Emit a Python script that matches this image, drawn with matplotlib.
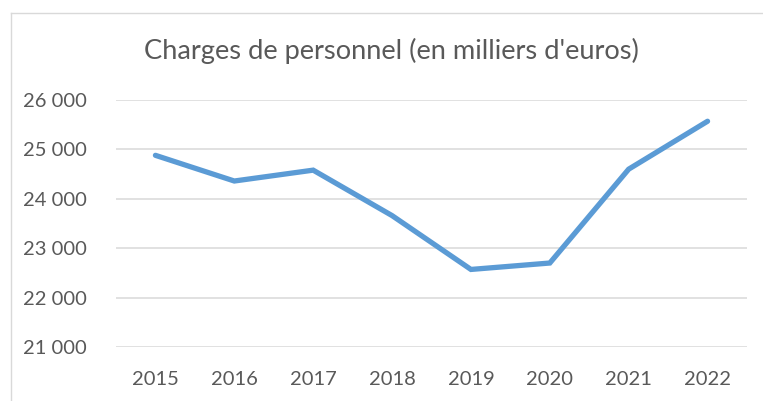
import matplotlib.pyplot as plt
from matplotlib.lines import Line2D

years = ['2015', '2016', '2017', '2018', '2019', '2020', '2021', '2022']
charges = [24880, 24360, 24580, 23660, 22570, 22700, 24600, 25570]
y_ticks = [21000, 22000, 23000, 24000, 25000, 26000]
y_labels = ['21 000', '22 000', '23 000', '24 000', '25 000', '26 000']

plt.rcParams['font.family'] = ['Lato', 'DejaVu Sans']
grey_text = '#595959'

W, H = 763, 401
fig = plt.figure(figsize=(W / 100, H / 100), dpi=100)
# plot area in pixels: x 116..747, y 100..347
ax = fig.add_axes([116 / W, 1 - 347 / H, (747 - 116) / W, (347 - 100) / H])

x = range(len(years))
ax.plot(x, charges, color='#5B9BD5', linewidth=3.8, solid_capstyle='round',
        solid_joinstyle='miter', zorder=3)

ax.set_xlim(-0.5, len(years) - 0.5)
ax.set_ylim(21000, 26000)
ax.set_yticks(y_ticks)
ax.set_yticklabels(y_labels)
ax.set_xticks(list(x))
ax.set_xticklabels(years)
ax.tick_params(length=0, labelsize=14.5, colors=grey_text)
ax.tick_params(axis='y', pad=21)
ax.tick_params(axis='x', pad=17)

ax.grid(axis='y', color='#D9D9D9', linewidth=1.1)
ax.set_axisbelow(True)
for s in ax.spines.values():
    s.set_visible(False)

fig.text(391 / W, 1 - 51 / H, "Charges de personnel (en milliers d'euros)",
         ha='center', va='center', fontsize=19.6, color=grey_text)

# chart area border (left and top visible)
fig.add_artist(Line2D([10.5 / W, 10.5 / W], [0, 1 - 12.5 / H],
                      transform=fig.transFigure, color='#D9D9D9', linewidth=1))
fig.add_artist(Line2D([10.5 / W, 1], [1 - 12.5 / H, 1 - 12.5 / H],
                      transform=fig.transFigure, color='#D9D9D9', linewidth=1))

fig.savefig('out.png', dpi=100)
